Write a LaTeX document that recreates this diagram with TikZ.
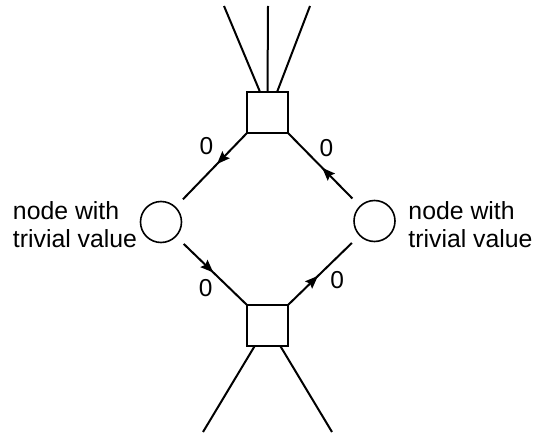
\documentclass[tikz,border=0pt]{standalone}
\usepackage{fontspec}
\setmainfont{Liberation Sans}
\usetikzlibrary{positioning,arrows.meta,decorations.markings}

\begin{document}
\begin{tikzpicture}[x=1pt,y=1pt,on grid,line width=2pt,
    box/.style={draw,minimum size=41pt,inner sep=0pt,outer sep=0pt},
    leaf/.style={draw,circle,minimum size=41pt,inner sep=0pt,outer sep=11pt,line width=1.6pt},
    note/.style={align=left,inner sep=0pt,font=\fontsize{24.8}{28}\selectfont},
    weight/.style={inner sep=3pt,font=\fontsize{24.5}{28}\selectfont},
    flow/.style={postaction={decorate},decoration={markings,
      mark=at position #1 with {\arrow{Stealth[length=13pt,width=10pt,inset=2pt]}}}},
    flow/.default=0.47]
    \useasboundingbox (0,0) rectangle (537,432);
    \node[box] (up)    at (267.5,319.5)                    {};
    \node[box] (down)  [below=213pt of up]                 {};
    \node[leaf] (west) [below left=109.5pt and 106.5pt of up]  {};
    \node[leaf] (east) [below right=108.5pt and 107pt of up]   {};
    \node[note] (west_txt) [below left=3pt and 86pt of west]   {node with\\trivial value};
    \node[note] (east_txt) [below right=4pt and 96pt of east]  {node with\\trivial value};
    % loose ends above and below
    \coordinate (in_1)  at (224,426);
    \coordinate (in_2)  at (268,426);
    \coordinate (in_3)  at (310,426);
    \coordinate (out_1) at (203,0);
    \coordinate (out_2) at (332,0);
    \draw (up.110) -- (in_1);
    \draw (up.north) -- (in_2);
    \draw (up.65) -- (in_3);
    \draw (down.238) -- (out_1);
    \draw (down.302) -- (out_2);
    % the cycle round the diamond
    \path
    (up.south west)   edge[flow] node[weight,pos=0.4,above left,xshift=-4pt,yshift=1pt] {0} (west)
    (west)            edge[flow] node[weight,pos=0.52,below left] {0} (down.north west)
    (down.north east) edge[flow] node[weight,pos=0.6,below right] {0} (east)
    (east)            edge[flow] node[weight,pos=0.57,above right] {0} (up.south east);
\end{tikzpicture}
\end{document}
